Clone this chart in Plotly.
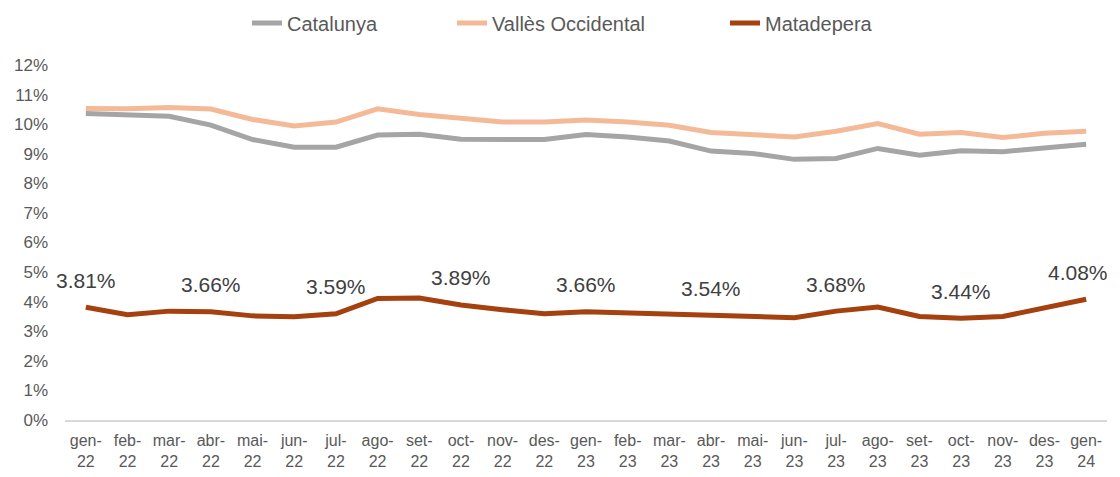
import plotly.graph_objects as go

months = ["gen-22", "feb-22", "mar-22", "abr-22", "mai-22", "jun-22", "jul-22", "ago-22",
          "set-22", "oct-22", "nov-22", "des-22", "gen-23", "feb-23", "mar-23", "abr-23",
          "mai-23", "jun-23", "jul-23", "ago-23", "set-23", "oct-23", "nov-23", "des-23",
          "gen-24"]
tick_labels = [m.replace("-", "-<br>") for m in months]

catalunya = [10.36, 10.33, 10.27, 9.97, 9.48, 9.22, 9.22, 9.63, 9.66, 9.49, 9.49, 9.48,
             9.65, 9.57, 9.43, 9.09, 9.01, 8.81, 8.84, 9.18, 8.95, 9.10, 9.07, 9.18, 9.32]
valles = [10.53, 10.52, 10.56, 10.51, 10.16, 9.94, 10.07, 10.52, 10.33, 10.20, 10.07, 10.07,
          10.14, 10.07, 9.96, 9.72, 9.66, 9.57, 9.76, 10.02, 9.66, 9.72, 9.55, 9.69, 9.76]
matadepera = [3.81, 3.56, 3.68, 3.66, 3.52, 3.49, 3.59, 4.11, 4.12, 3.89, 3.73, 3.59,
              3.66, 3.62, 3.56, 3.54, 3.48, 3.46, 3.68, 3.82, 3.50, 3.44, 3.50, 3.77, 4.08]
label_every = 3

FONT = "Liberation Sans, Arial, sans-serif"

fig = go.Figure()
fig.add_trace(go.Scatter(x=months, y=catalunya, name="Catalunya", mode="lines",
                         line=dict(color="#A5A5A5", width=5), legend="legend"))
fig.add_trace(go.Scatter(x=months, y=valles, name="Vallès Occidental", mode="lines",
                         line=dict(color="#F4BA98", width=5), legend="legend2"))
fig.add_trace(go.Scatter(x=months, y=matadepera, name="Matadepera", mode="lines",
                         line=dict(color="#A4410E", width=5), legend="legend3"))

last = len(months) - 1
for i in range(0, len(months), label_every):
    fig.add_annotation(x=months[i], y=matadepera[i], text=f"{matadepera[i]:.2f}%",
                       showarrow=False, yshift=27, xshift=(-8 if i == last else 0),
                       font=dict(family=FONT, size=21, color="#404040"))

# figure is drawn inside the page's default 8px body margin
PLOT_L, PLOT_W = 57, 1042


def leg(text_px):
    return dict(x=(text_px - 48 - PLOT_L) / PLOT_W, xanchor="left", y=1.118,
                yanchor="middle", orientation="h",
                font=dict(family=FONT, size=20, color="#595959"),
                bgcolor="rgba(0,0,0,0)", itemwidth=30)


fig.update_layout(
    width=1104, height=461,
    margin=dict(l=57, r=5, t=57, b=49, autoexpand=False),
    plot_bgcolor="white", paper_bgcolor="white",
    font=dict(family=FONT, color="#595959", size=17),
    showlegend=True,
    legend=leg(287), legend2=leg(492), legend3=leg(765),
    xaxis=dict(type="category", tickvals=months, ticktext=tick_labels,
               showgrid=False, showline=True, linecolor="#D9D9D9", linewidth=1.5,
               ticks="", ticklabelstandoff=5, tickfont=dict(size=16, color="#595959"),
               range=[-0.5, len(months) - 0.5], zeroline=False),
    yaxis=dict(range=[0, 12], dtick=1, ticksuffix="%", showgrid=False, zeroline=False,
               showline=False, ticks="", ticklabelstandoff=16,
               tickfont=dict(size=17, color="#595959")),
)

fig.write_html("out.html")
